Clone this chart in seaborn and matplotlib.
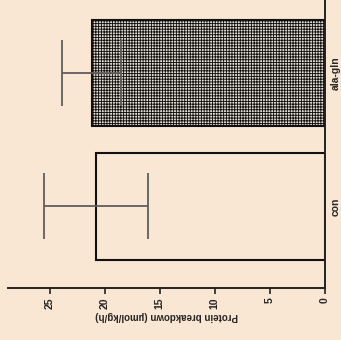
import matplotlib
matplotlib.use("Agg")
import matplotlib.pyplot as plt
import seaborn as sns
import pandas as pd

# data read from the (rotated) reference
groups = ["con", "ala-gln"]
means = [20.8, 21.2]
errors = [4.7, 2.7]
value_ticks = [0, 5, 10, 15, 20, 25]

bg = "#FAE7D3"

sns.set_theme(style="white")
plt.rcParams["font.family"] = ["Liberation Sans", "DejaVu Sans"]
plt.rcParams["hatch.linewidth"] = 0.65
plt.rcParams["hatch.color"] = "#111111"

df = pd.DataFrame({"group": groups, "mean": means})

fig = plt.figure(figsize=(3.41, 3.40), dpi=100, facecolor=bg)
ax = fig.add_axes([0.023, 0.153, 0.930, 0.847])
ax.set_facecolor(bg)

sns.barplot(data=df, y="group", x="mean", order=groups, orient="h",
            errorbar=None, width=0.8, ax=ax)

# style the two bars: open box for control, dense checker for ala-gln
for patch, g in zip(ax.patches, groups):
    patch.set_edgecolor("#111111")
    patch.set_linewidth(1.5)
    if g == "con":
        patch.set_facecolor(bg)
    else:
        patch.set_facecolor("#e6dfd3")
        patch.set_hatch("+" * 6)

ax.errorbar(means, range(len(groups)), xerr=errors, fmt="none",
            ecolor="#5e5e5e", elinewidth=1.3, capsize=23.5, capthick=1.3, zorder=5)

ax.set_xlim(28.8, 0)
ax.set_ylim(-0.613, 1.55)

ax.set_xticks(value_ticks)
ax.set_xticklabels([str(v) for v in value_ticks], rotation=90,
                   fontsize=7.5, fontweight="bold")
ax.tick_params(axis="x", direction="out", length=4, width=1.2,
               color="#222222", pad=2.5, bottom=True)

ax.yaxis.tick_right()
ax.set_yticks(range(len(groups)))
ax.set_yticklabels(groups, rotation=90, va="center", fontsize=7.5, fontweight="bold")
ax.tick_params(axis="y", length=0, pad=4)

ax.set_xlabel("Protein breakdown (\u00b5mol/kg/h)", rotation=180,
              fontsize=7, fontweight="bold", labelpad=2)
ax.set_ylabel("")

for side in ["top", "left"]:
    ax.spines[side].set_visible(False)
for side in ["bottom", "right"]:
    ax.spines[side].set_color("#222222")
    ax.spines[side].set_linewidth(1.4)

fig.savefig("out.png", dpi=100, facecolor=bg)
